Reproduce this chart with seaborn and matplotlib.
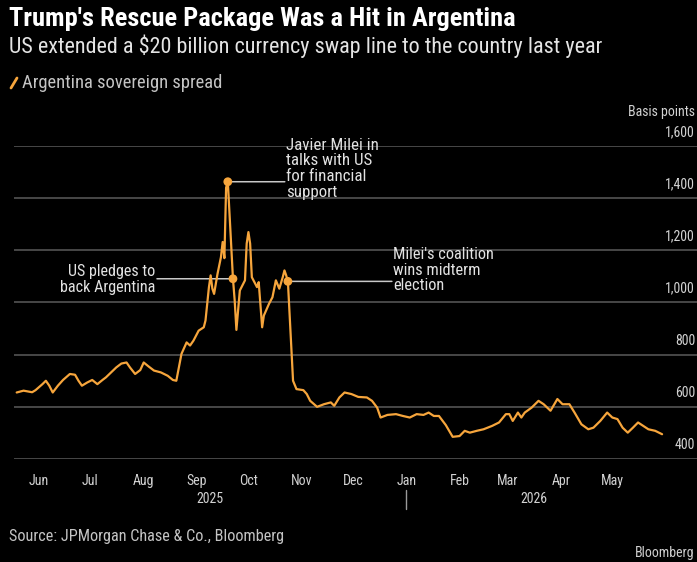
import matplotlib
matplotlib.use("Agg")
import numpy as np
import pandas as pd
import seaborn as sns
import matplotlib.pyplot as plt
import matplotlib.transforms as mtrans
from matplotlib import font_manager as fm
from matplotlib.lines import Line2D

# ------------------------------------------------------------------ data
dates = [
    "2025-05-19", "2025-05-23", "2025-05-28", "2025-05-30", "2025-06-03", "2025-06-05",
    "2025-06-07", "2025-06-09", "2025-06-12", "2025-06-15", "2025-06-19", "2025-06-22",
    "2025-06-24", "2025-06-26", "2025-06-29", "2025-07-02", "2025-07-05", "2025-07-08",
    "2025-07-10", "2025-07-13", "2025-07-16", "2025-07-19", "2025-07-22", "2025-07-24",
    "2025-07-27", "2025-07-30", "2025-08-01", "2025-08-04", "2025-08-07", "2025-08-11",
    "2025-08-15", "2025-08-18", "2025-08-20", "2025-08-23", "2025-08-26", "2025-08-28",
    "2025-08-30", "2025-09-02", "2025-09-05", "2025-09-06", "2025-09-08", "2025-09-09",
    "2025-09-10", "2025-09-11", "2025-09-13", "2025-09-15", "2025-09-16", "2025-09-17",
    "2025-09-18", "2025-09-19", "2025-09-22", "2025-09-23", "2025-09-24", "2025-09-26",
    "2025-09-29", "2025-09-30", "2025-10-01", "2025-10-02", "2025-10-03", "2025-10-06",
    "2025-10-07", "2025-10-09", "2025-10-10", "2025-10-13", "2025-10-15", "2025-10-17",
    "2025-10-19", "2025-10-21", "2025-10-22", "2025-10-23", "2025-10-24", "2025-10-27",
    "2025-10-29", "2025-11-02", "2025-11-04", "2025-11-06", "2025-11-10", "2025-11-14",
    "2025-11-18", "2025-11-20", "2025-11-23", "2025-11-26", "2025-11-30", "2025-12-04",
    "2025-12-09", "2025-12-12", "2025-12-15", "2025-12-17", "2025-12-21", "2025-12-26",
    "2025-12-30", "2026-01-03", "2026-01-07", "2026-01-11", "2026-01-14", "2026-01-17",
    "2026-01-20", "2026-01-24", "2026-01-28", "2026-02-01", "2026-02-04", "2026-02-07",
    "2026-02-11", "2026-02-15", "2026-02-20", "2026-02-24", "2026-02-28", "2026-03-02",
    "2026-03-04", "2026-03-07", "2026-03-09", "2026-03-11", "2026-03-15", "2026-03-19",
    "2026-03-22", "2026-03-26", "2026-03-30", "2026-04-02", "2026-04-06", "2026-04-09",
    "2026-04-13", "2026-04-17", "2026-04-20", "2026-04-24", "2026-04-28", "2026-05-01",
    "2026-05-04", "2026-05-07", "2026-05-10", "2026-05-13", "2026-05-16", "2026-05-19",
    "2026-05-22", "2026-05-26", "2026-05-30",
]
spread = [
    655, 662, 656, 664, 687, 700,
    681, 655, 681, 703, 726, 723,
    700, 681, 693, 703, 687, 703,
    713, 732, 751, 766, 770, 751,
    726, 741, 770, 754, 739, 732,
    719, 703, 700, 803, 847, 835,
    854, 892, 905, 931, 1059, 1104,
    1053, 1033, 1110, 1174, 1232, 1170,
    1440, 1463, 1091, 1008, 895, 1046,
    1085, 1226, 1270, 1226, 1097, 1059,
    1078, 905, 950, 995, 1020, 1085,
    1053, 1097, 1123, 1104, 1081, 700,
    668, 664, 649, 623, 600, 610,
    617, 604, 636, 655, 649, 638,
    636, 623, 597, 559, 569, 572,
    565, 559, 572, 569, 578, 565,
    565, 530, 485, 488, 508, 501,
    508, 514, 527, 540, 572, 572,
    546, 578, 559, 578, 597, 623,
    610, 585, 630, 610, 610, 578,
    533, 514, 520, 546, 578, 559,
    553, 520, 501, 520, 540, 527,
    514, 508, 495,
]

event_dates = ["2025-09-19", "2025-09-22", "2025-10-24"]
event_texts = [
    "Javier Milei in\ntalks with US\nfor financial\nsupport",
    "US pledges to\nback Argentina",
    "Milei's coalition\nwins midterm\nelection",
]

month_ticks = ["2025-06-01", "2025-07-01", "2025-08-01", "2025-09-01", "2025-10-01",
               "2025-11-01", "2025-12-01", "2026-01-01", "2026-02-01", "2026-03-01",
               "2026-04-01", "2026-05-01"]
month_labels = ["Jun", "Jul", "Aug", "Sep", "Oct", "Nov", "Dec",
                "Jan", "Feb", "Mar", "Apr", "May"]
year_labels = ["2025", "2026"]
y_ticks = [400, 600, 800, 1000, 1200, 1400, 1600]
y_tick_labels = ["400", "600", "800", "1,000", "1,200", "1,400", "1,600"]

title = "Trump's Rescue Package Was a Hit in Argentina"
subtitle = "US extended a $20 billion currency swap line to the country last year"
legend_label = "Argentina sovereign spread"
unit_label = "Basis points"
source = "Source: JPMorgan Chase & Co., Bloomberg"
brand = "Bloomberg"

df = pd.DataFrame({"date": pd.to_datetime(dates), "spread": spread})
ev = df[df["date"].isin(pd.to_datetime(event_dates))].reset_index(drop=True)

# ------------------------------------------------------------------ style
sns.set_theme(style="dark")
names = {f.name for f in fm.fontManager.ttflist}
narrow = None
for c in ["Liberation Sans Narrow", "Roboto Condensed", "Open Sans Condensed"]:
    if c in names:
        narrow = c
        break
if narrow:
    plt.rcParams["font.family"] = [narrow, "DejaVu Sans"]
else:
    plt.rcParams["font.family"] = ["DejaVu Sans"]
    if any(f.name == "DejaVu Sans" and str(f.stretch) == "condensed" for f in fm.fontManager.ttflist):
        plt.rcParams["font.stretch"] = "condensed"

BG = "#000000"
ORANGE = "#f6a53c"
GRID = "#4d4d4d"
TXT = "#d2d2d2"

W, H = 697, 562
fig = plt.figure(figsize=(W / 100, H / 100), dpi=100, facecolor=BG)

def fx(px):
    return px / W

def fy(py):
    return 1 - py / H

ax_left, ax_bottom_px, ax_top_px = 14, 459, 146
ax = fig.add_axes([fx(ax_left), fy(ax_bottom_px), 1 - fx(ax_left), (ax_bottom_px - ax_top_px) / H])
ax.set_facecolor(BG)

sns.lineplot(data=df, x="date", y="spread", ax=ax, color=ORANGE, lw=1.6, zorder=3)

# axis limits (px scale ~1.7165 px/day, Jun 1 2025 at x=39)
ppd = 1.7165
jun1 = pd.Timestamp("2025-06-01")
x0 = jun1 + pd.Timedelta(days=(ax_left - 39) / ppd)
x1 = jun1 + pd.Timedelta(days=(W - 39) / ppd)
ax.set_xlim(x0, x1)
ax.set_ylim(400, 1600)

for s in ax.spines.values():
    s.set_visible(False)

ax.set_yticks(y_ticks)
ax.set_yticklabels([])
ax.tick_params(axis="y", length=0)
ax.grid(axis="y", color=GRID, lw=1.3)
ax.grid(axis="x", visible=False)
ax.set_xlabel("")
ax.set_ylabel("")

ax.set_xticks(pd.to_datetime(month_ticks))
ax.set_xticklabels(month_labels)
ax.tick_params(axis="x", length=6, width=1.0, color="#9a9a9a", pad=5,
               labelsize=10, labelcolor=TXT, direction="out")

# y labels (right side, above each gridline)
ytr = ax.get_yaxis_transform()
off = mtrans.offset_copy(ytr, fig=fig, x=-2, y=7, units="dots")
for v, lab in zip(y_ticks, y_tick_labels):
    ax.text(1.0, v, lab, transform=off, ha="right", va="bottom",
            fontsize=10, color=TXT, clip_on=False)
fig.text(fx(695), fy(112), unit_label, ha="right", va="center", fontsize=10, color=TXT)

# year labels and separator
xtr = ax.get_xaxis_transform()
jan1 = pd.Timestamp("2026-01-01")
ylab_y = (ax_bottom_px - 499) / (ax_bottom_px - ax_top_px)
mid25 = x0 + (jan1 - x0) / 2
mid26 = jan1 + (df["date"].iloc[-1] - jan1) / 2
ax.text(mid25, ylab_y, year_labels[0], transform=xtr, ha="center", va="center",
        fontsize=10, color=TXT)
ax.text(mid26, ylab_y, year_labels[1], transform=xtr, ha="center", va="center",
        fontsize=10, color=TXT)
ax.axvline(jan1, ymin=(ax_bottom_px - 509) / (ax_bottom_px - ax_top_px),
           ymax=(ax_bottom_px - 490) / (ax_bottom_px - ax_top_px),
           color="#9a9a9a", lw=1.0, clip_on=False)

# event markers and annotations
ax.scatter(ev["date"], ev["spread"], s=40, color=ORANGE, zorder=4, edgecolor="none")
text_cfg = [  # (text dx, text dy, ha, line end dx)
    (58, 13, "left", 57),
    (-78, -1, "right", -76),
    (105, 11, "left", 104),
]
ann = []
for i, (dx, dy, ha, ldx) in enumerate(text_cfg):
    d, v = ev.loc[i, "date"], ev.loc[i, "spread"]
    ax.annotate("", xy=(d, v), xytext=(ldx, 0), textcoords="offset pixels",
                arrowprops=dict(arrowstyle="-", color="#c8c8c8", lw=1.1,
                                shrinkA=0, shrinkB=0), zorder=2)
    t = ax.annotate(event_texts[i], xy=(d, v), xytext=(dx, dy), textcoords="offset pixels",
                    ha=ha, va="center", fontsize=10, color="#e2e2e2",
                    linespacing=1.05, multialignment=ha, zorder=5)
    ann.append(t)

# header, legend, footer
t_title = fig.text(fx(9), fy(19), title, ha="left", va="center", fontsize=16,
                   fontweight="bold", color="#ffffff")
t_sub = fig.text(fx(9), fy(46), subtitle, ha="left", va="center", fontsize=13,
                 color="#e4e4e4")
fig.add_artist(Line2D([fx(11), fx(17)], [fy(88), fy(78)], color=ORANGE, lw=2.0))
t_leg = fig.text(fx(22), fy(83), legend_label, ha="left", va="center", fontsize=10,
                 color="#c4c4c4")
t_src = fig.text(fx(9), fy(537), source, ha="left", va="center", fontsize=9.5,
                 color="#c4c4c4")
fig.text(fx(695), fy(560), brand, ha="right", va="bottom", fontsize=10, color="#cfcfcf")

# fit text widths to the reference
r = fig.canvas.get_renderer()
def fit(t, target):
    w = t.get_window_extent(r).width
    t.set_fontsize(t.get_fontsize() * target / w)

fit(t_title, 505)
fit(t_sub, 591)
fit(t_leg, 198)
fit(t_src, 275)
fit(ann[0], 92)
fit(ann[1], 95)
fit(ann[2], 101)

fig.savefig("out.png", dpi=100, facecolor=BG)
